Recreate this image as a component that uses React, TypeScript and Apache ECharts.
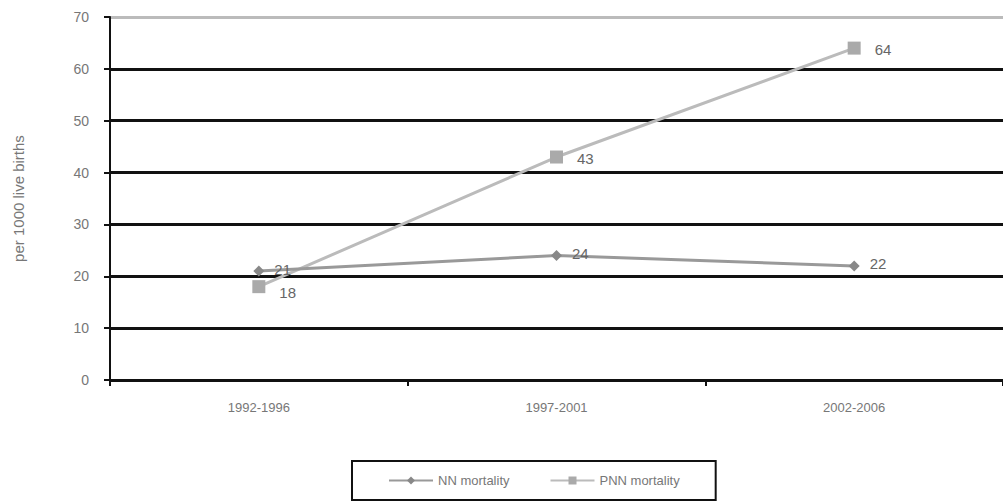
import React, { useEffect, useRef } from "react";
import * as echarts from "echarts";

const categories = ["1992-1996", "1997-2001", "2002-2006"];
const nnMortality = [21, 24, 22];
const pnnMortality = [18, 43, 64];
const yTicks = [0, 10, 20, 30, 40, 50, 60, 70];

export default function App() {
  const ref = useRef<HTMLDivElement>(null);
  useEffect(() => {
    if (!ref.current) return;
    const chart = echarts.init(ref.current, null, { renderer: "svg" });
    chart.setOption({
      animation: false,
      backgroundColor: "#fff",
      textStyle: { fontFamily: "Liberation Sans" },
      grid: { left: 110, top: 17, bottom: 121, right: -7 },
      xAxis: {
        type: "category",
        data: categories,
        boundaryGap: true,
        axisLine: { lineStyle: { color: "#111", width: 2 } },
        axisTick: { show: true, length: 6, lineStyle: { color: "#111", width: 2 } },
        axisLabel: { color: "#777", fontSize: 13, margin: 21 },
        splitLine: { show: false },
      },
      yAxis: {
        type: "value",
        min: yTicks[0],
        max: yTicks[yTicks.length - 1],
        interval: 10,
        name: "per 1000 live births",
        nameLocation: "middle",
        nameGap: 84,
        nameTextStyle: { color: "#777", fontSize: 15 },
        axisLine: { show: true, lineStyle: { color: "#111", width: 2 } },
        axisTick: { show: true, length: 6, lineStyle: { color: "#111", width: 2 } },
        axisLabel: { color: "#777", fontSize: 14, margin: 21 },
        splitLine: {
          show: true,
          lineStyle: {
            color: ["#111", "#111", "#111", "#111", "#111", "#111", "#111", "#bbb"],
            width: 3,
          },
        },
      },
      legend: {
        left: 352,
        top: 461,
        padding: [13, 36, 13, 36],
        itemGap: 40,
        itemWidth: 44,
        itemHeight: 10,
        borderColor: "#111",
        borderWidth: 2,
        textStyle: { color: "#777", fontSize: 13 },
        data: ["NN mortality", "PNN mortality"],
      },
      series: [
        {
          name: "NN mortality",
          type: "line",
          data: nnMortality,
          symbol: "diamond",
          symbolSize: 11,
          itemStyle: { color: "#888" },
          lineStyle: { color: "#999", width: 3 },
          label: { show: true, position: "right", distance: 10, offset: [0, -2], color: "#666", fontSize: 15 },
          z: 3,
        },
        {
          name: "PNN mortality",
          type: "line",
          data: pnnMortality.map((v, i) =>
            i === 0 ? { value: v, label: { offset: [4, 6] } } : v
          ),
          symbol: "rect",
          symbolSize: 13,
          itemStyle: { color: "#aaa" },
          lineStyle: { color: "#bbb", width: 3 },
          label: { show: true, position: "right", distance: 10, offset: [4, 1], color: "#666", fontSize: 15 },
          z: 2,
        },
      ],
    });
    return () => chart.dispose();
  }, []);
  return (
    <div
      ref={ref}
      style={{ position: "fixed", left: 0, top: 0, width: 1003, height: 501 }}
    />
  );
}
